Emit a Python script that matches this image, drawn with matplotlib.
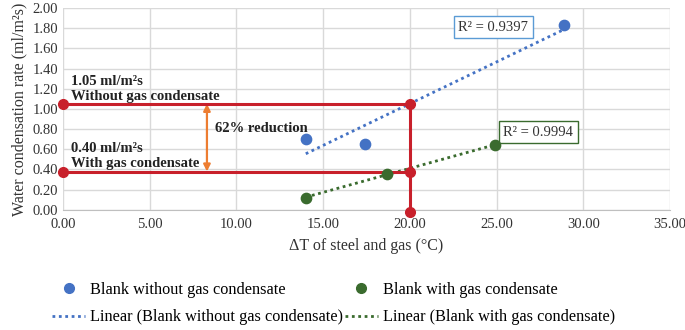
import numpy as np
import matplotlib
import matplotlib.pyplot as plt
from matplotlib.lines import Line2D

# data
dt_without = [14.0, 17.4, 28.9]
rate_without = [0.70, 0.65, 1.83]
dt_with = [14.0, 18.7, 24.9]
rate_with = [0.12, 0.36, 0.64]
r2_without = "R² = 0.9397"
r2_with = "R² = 0.9994"

ref_dt = 20.0
ref_without = 1.05
ref_with = 0.38
reduction_label = "62% reduction"

xticks = np.arange(0, 35.01, 5)
yticks = np.arange(0, 2.001, 0.2)

BLUE = '#4472c4'
GREEN = '#3a6b2e'
RED = '#c8202b'
ORANGE = '#ed7d31'

matplotlib.rc('font', family='Liberation Serif', size=11)
fig = plt.figure(figsize=(6.85, 3.3), dpi=100)
ax = fig.add_axes([0.092, 0.364, 0.886, 0.612])

ax.set_xlim(0, 35)
ax.set_ylim(0, 2.0)
ax.set_xticks(xticks)
ax.set_yticks(yticks)
ax.xaxis.set_major_formatter(matplotlib.ticker.FormatStrFormatter('%.2f'))
ax.yaxis.set_major_formatter(matplotlib.ticker.FormatStrFormatter('%.2f'))
ax.grid(color='#d9d9d9', linewidth=1)
ax.set_axisbelow(True)
for s in ['top', 'right', 'left']:
    ax.spines[s].set_visible(False)
ax.spines['bottom'].set_color('#bfbfbf')
ax.tick_params(length=0, labelsize=10.5, colors='#333333')
ax.tick_params(axis='x', pad=6)

# red reference lines
ax.plot([0, ref_dt], [ref_without, ref_without], color=RED, lw=2.2, marker='o', ms=7, clip_on=False, zorder=4)
ax.plot([0, ref_dt], [ref_with, ref_with], color=RED, lw=2.2, marker='o', ms=7, clip_on=False, zorder=4)
ax.plot([ref_dt, ref_dt], [ref_without, 0], color=RED, lw=2.2, zorder=4)
ax.plot([ref_dt], [-0.02], color=RED, marker='o', ms=7, clip_on=False, zorder=4)

# trendlines
for xs, ys, c in [(dt_without, rate_without, BLUE), (dt_with, rate_with, GREEN)]:
    k, b = np.polyfit(xs, ys, 1)
    xx = np.array([min(xs), max(xs)])
    ax.plot(xx, k * xx + b, color=c, lw=2, linestyle=(0, (1, 1.3)), zorder=3)

ax.scatter(dt_without, rate_without, s=55, color=BLUE, zorder=5, clip_on=False)
ax.scatter(dt_with, rate_with, s=55, color=GREEN, zorder=5, clip_on=False)

# orange double arrow
ax.annotate('', xy=(8.3, ref_with), xytext=(8.3, ref_without),
            arrowprops=dict(arrowstyle='<|-|>', color=ORANGE, lw=1.6, mutation_scale=10,
                            shrinkA=0, shrinkB=0))
ax.text(8.75, 0.81, reduction_label, fontsize=10.5, fontweight='bold', va='center', color='#222222')

ax.text(0.45, 1.27, "1.05 ml/m²s", fontsize=10.5, fontweight='bold', va='center', color='#222222')
ax.text(0.45, 1.12, "Without gas condensate", fontsize=10.5, fontweight='bold', va='center', color='#222222')
ax.text(0.45, 0.61, "0.40 ml/m²s", fontsize=10.5, fontweight='bold', va='center', color='#222222')
ax.text(0.45, 0.455, "With gas condensate", fontsize=10.5, fontweight='bold', va='center', color='#222222')

ax.text(22.8, 1.81, r2_without, fontsize=10.5, va='center', color='#333333',
        bbox=dict(boxstyle='square,pad=0.3', fc='white', ec='#5b9bd5', lw=1))
ax.text(25.4, 0.77, r2_with, fontsize=10.5, va='center', color='#333333',
        bbox=dict(boxstyle='square,pad=0.3', fc='white', ec=GREEN, lw=1))

ax.set_xlabel("ΔT of steel and gas (°C)", fontsize=11.5, color='#333333', labelpad=5)
ax.set_ylabel("Water condensation rate (ml/m²s)", fontsize=11.5, color='#333333', labelpad=4)

handles = [
    Line2D([], [], color=BLUE, marker='o', ms=7, lw=0),
    Line2D([], [], color=BLUE, lw=2, linestyle=(0, (1, 1.3))),
    Line2D([], [], color=GREEN, marker='o', ms=7, lw=0),
    Line2D([], [], color=GREEN, lw=2, linestyle=(0, (1, 1.3))),
]
labels = ["Blank without gas condensate", "Linear (Blank without gas condensate)",
          "Blank with gas condensate", "Linear (Blank with gas condensate)"]
fig.legend(handles, labels, ncol=2, loc='lower left', bbox_to_anchor=(0.055, -0.03),
           frameon=False, fontsize=11.7, handlelength=2.0, handletextpad=0.35,
           columnspacing=0.1, labelspacing=0.7)

plt.savefig('out.png', dpi=100)
